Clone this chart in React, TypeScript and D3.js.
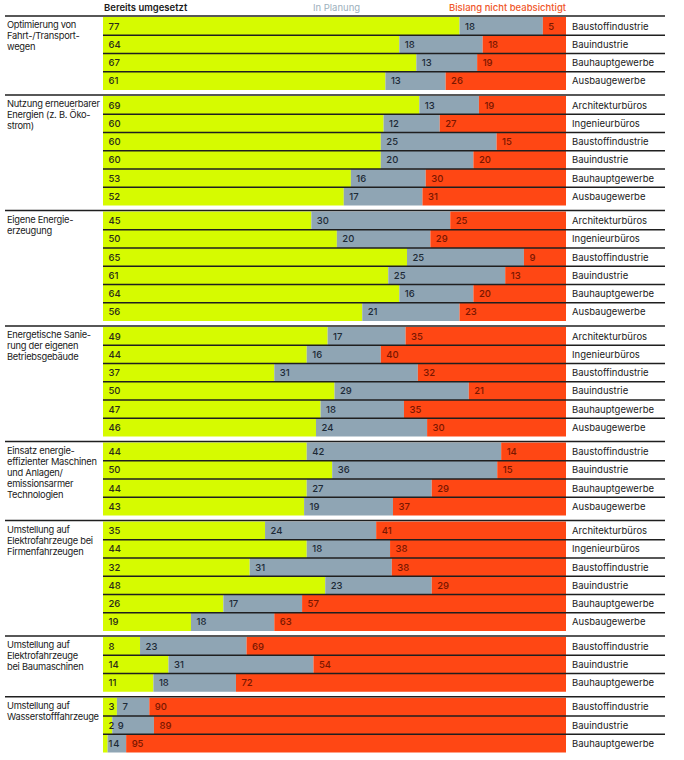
import React from "react";
import * as d3 from "d3";

const groupLabels: string[][] = [
  ["Optimierung von", "Fahrt-/Transport-", "wegen"],
  ["Nutzung erneuerbarer", "Energien (z. B. Öko-", "strom)"],
  ["Eigene Energie-", "erzeugung"],
  ["Energetische Sanie-", "rung der eigenen", "Betriebsgebäude"],
  ["Einsatz energie-", "effizienter Maschinen", "und Anlagen/", "emissionsarmer", "Technologien"],
  ["Umstellung auf", "Elektrofahrzeuge bei", "Firmenfahrzeugen"],
  ["Umstellung auf", "Elektrofahrzeuge", "bei Baumaschinen"],
  ["Umstellung auf", "Wasserstofffahrzeuge"],
];

const groupCategories: string[][] = [
  ["Baustoffindustrie", "Bauindustrie", "Bauhauptgewerbe", "Ausbaugewerbe"],
  ["Architekturbüros", "Ingenieurbüros", "Baustoffindustrie", "Bauindustrie", "Bauhauptgewerbe", "Ausbaugewerbe"],
  ["Architekturbüros", "Ingenieurbüros", "Baustoffindustrie", "Bauindustrie", "Bauhauptgewerbe", "Ausbaugewerbe"],
  ["Architekturbüros", "Ingenieurbüros", "Baustoffindustrie", "Bauindustrie", "Bauhauptgewerbe", "Ausbaugewerbe"],
  ["Baustoffindustrie", "Bauindustrie", "Bauhauptgewerbe", "Ausbaugewerbe"],
  ["Architekturbüros", "Ingenieurbüros", "Baustoffindustrie", "Bauindustrie", "Bauhauptgewerbe", "Ausbaugewerbe"],
  ["Baustoffindustrie", "Bauindustrie", "Bauhauptgewerbe"],
  ["Baustoffindustrie", "Bauindustrie", "Bauhauptgewerbe"],
];

const umgesetzt: number[][] = [
  [77, 64, 67, 61],
  [69, 60, 60, 60, 53, 52],
  [45, 50, 65, 61, 64, 56],
  [49, 44, 37, 50, 47, 46],
  [44, 50, 44, 43],
  [35, 44, 32, 48, 26, 19],
  [8, 14, 11],
  [3, 2, 1],
];

const planung: number[][] = [
  [18, 18, 13, 13],
  [13, 12, 25, 20, 16, 17],
  [30, 20, 25, 25, 16, 21],
  [17, 16, 31, 29, 18, 24],
  [42, 36, 27, 19],
  [24, 18, 31, 23, 17, 18],
  [23, 31, 18],
  [7, 9, 4],
];

const nichtBeabsichtigt: number[][] = [
  [5, 18, 19, 26],
  [19, 27, 15, 20, 30, 31],
  [25, 29, 9, 13, 20, 23],
  [35, 40, 32, 21, 35, 30],
  [14, 15, 29, 37],
  [41, 38, 38, 29, 57, 63],
  [69, 54, 72],
  [90, 89, 95],
];

const seriesKeys = ["umgesetzt", "planung", "nicht"];
const headerLabels = ["Bereits umgesetzt", "In Planung", "Bislang nicht beabsichtigt"];

const COLORS: Record<string, string> = {
  umgesetzt: "#d6fb00",
  planung: "#8fa5b4",
  nicht: "#ff4714",
};
const LABEL_COLORS: Record<string, string> = {
  umgesetzt: "#2b2b1a",
  planung: "#1d2a36",
  nicht: "#7a1600",
};

const FONT = "Inter, 'Noto Sans', Arial, sans-serif";

export default function App() {
  const X0 = 103;
  const X1 = 566;
  const TOP = 16;
  const ROW = 18.25;
  const GAP = 5;
  const LINE_LEFT = 5;
  const LINE_RIGHT = 665;

  const x = d3.scaleLinear().domain([0, 1]).range([X0, X1]);

  type Row = { g: number; i: number; cat: string; umgesetzt: number; planung: number; nicht: number };
  const rows: Row[] = [];
  groupCategories.forEach((cats, g) => {
    cats.forEach((cat, i) => {
      rows.push({ g, i, cat, umgesetzt: umgesetzt[g][i], planung: planung[g][i], nicht: nichtBeabsichtigt[g][i] });
    });
  });

  const stacked = d3.stack<Row>().keys(seriesKeys).offset(d3.stackOffsetExpand)(rows);

  const groupTops: number[] = [];
  let yCur = TOP;
  groupCategories.forEach((cats) => {
    groupTops.push(yCur);
    yCur += 1 + cats.length * ROW + GAP;
  });
  const rowY = (r: Row) => groupTops[r.g] + 1 + r.i * ROW;

  return (
    <svg
      width={684}
      height={760}
      style={{ position: "absolute", left: 0, top: 0, background: "#fff" }}
      fontFamily={FONT}
    >
      <text x={X0 + 1} y={11} fontSize={9.5} fontWeight={600} fill="#1a1a1a">
        {headerLabels[0]}
      </text>
      <text x={x(0.5) + 2} y={11} fontSize={9.5} textAnchor="middle" fill="#9db0bd">
        {headerLabels[1]}
      </text>
      <text x={X1} y={11} fontSize={9.5} fontWeight={500} textAnchor="end" fill="#f0572a">
        {headerLabels[2]}
      </text>

      {stacked.map((series) => (
        <g key={series.key}>
          {series.map((d, k) => {
            const r = rows[k];
            const y = rowY(r);
            return (
              <rect
                key={k}
                x={x(d[0])}
                y={y}
                width={Math.max(0, x(d[1]) - x(d[0]))}
                height={ROW}
                fill={COLORS[series.key]}
              />
            );
          })}
        </g>
      ))}

      {stacked.map((series) => (
        <g key={"l" + series.key}>
          {series.map((d, k) => {
            const r = rows[k] as any;
            const y = rowY(rows[k]);
            return (
              <text
                key={k}
                x={x(d[0]) + 5.5}
                y={y + ROW / 2 + 3.4}
                fontSize={9.5}
                fontWeight={500}
                fill={LABEL_COLORS[series.key]}
              >
                {r[series.key]}
              </text>
            );
          })}
        </g>
      ))}

      {rows.filter((r) => r.i > 0).map((r, k) => (
        <line
          key={"d" + k}
          x1={X0}
          x2={LINE_RIGHT}
          y1={rowY(r)}
          y2={rowY(r)}
          stroke="#1f1f1f"
          strokeWidth={1.3}
        />
      ))}

      {groupTops.map((gy, g) => (
        <line key={"g" + g} x1={LINE_LEFT} x2={LINE_RIGHT} y1={gy} y2={gy} stroke="#1f1f1f" strokeWidth={1.5} />
      ))}

      {rows.map((r, k) => (
        <text key={"c" + k} x={572} y={rowY(r) + ROW / 2 + 3.4} fontSize={9.5} fill="#1a1a1a">
          {r.cat}
        </text>
      ))}

      {groupLabels.map((lines, g) => (
        <text
          key={"gl" + g}
          x={7}
          y={groupTops[g] + 12}
          fontSize={9.3}
          letterSpacing={-0.25}
          fill="#1a1a1a"
        >
          {lines.map((ln, j) => (
            <tspan key={j} x={7} dy={j === 0 ? 0 : 11.2}>
              {ln}
            </tspan>
          ))}
        </text>
      ))}
    </svg>
  );
}
